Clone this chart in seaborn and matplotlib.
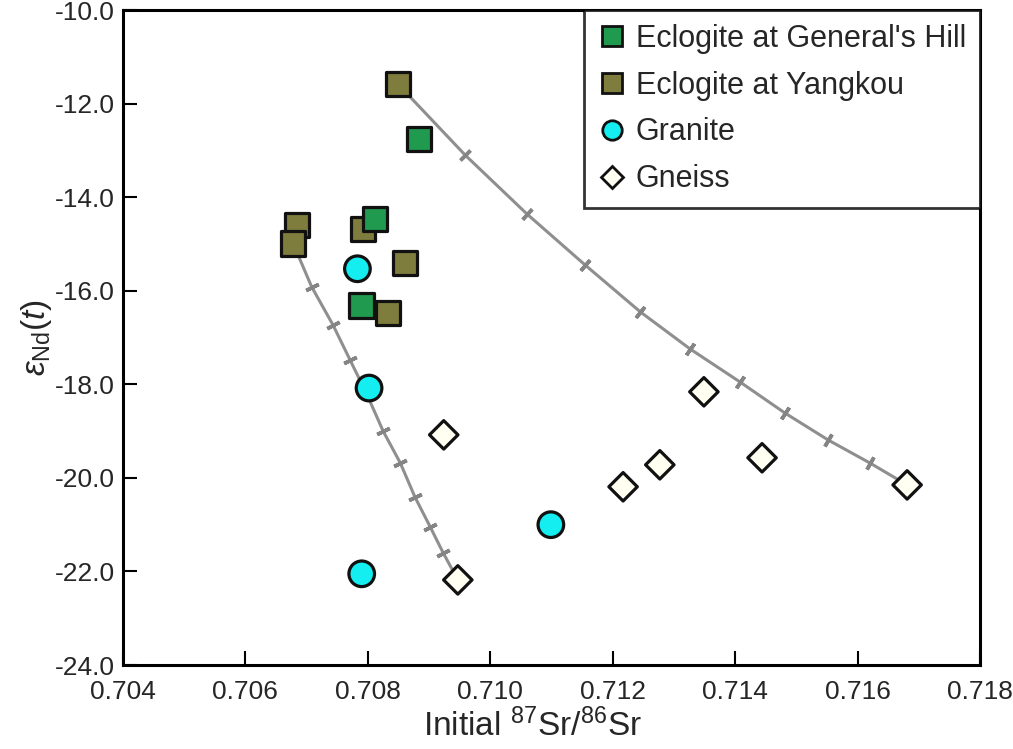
import numpy as np
import pandas as pd
import matplotlib
matplotlib.use("Agg")
import matplotlib.pyplot as plt
import seaborn as sns
from matplotlib.lines import Line2D

# --- sample data: initial 87Sr/86Sr vs eps_Nd(t) ---
gh_sr = [0.70884, 0.70812, 0.70790]
gh_nd = [-12.76, -14.47, -16.32]

yk_sr = [0.70849, 0.70684, 0.70678, 0.70792, 0.70861, 0.70833]
yk_nd = [-11.58, -14.59, -14.99, -14.68, -15.41, -16.47]

gr_sr = [0.70783, 0.70802, 0.71099, 0.70790]
gr_nd = [-15.53, -18.08, -21.00, -22.05]

gn_sr = [0.70924, 0.70947, 0.71217, 0.71277, 0.71349, 0.71444, 0.71681]
gn_nd = [-19.08, -22.18, -20.19, -19.72, -18.16, -19.57, -20.15]

# mixing curves, with a node every 10 % of mixing
mix1_sr = [0.70849, 0.70959, 0.71060, 0.71155, 0.71245, 0.71326,
           0.71408, 0.71481, 0.71552, 0.71620, 0.71681]
mix1_nd = [-11.58, -13.10, -14.36, -15.45, -16.45, -17.24,
           -17.95, -18.61, -19.19, -19.68, -20.15]
mix2_sr = [0.70678, 0.70708, 0.70743, 0.70771, 0.70799, 0.70825,
           0.70853, 0.70877, 0.70902, 0.70923, 0.70947]
mix2_nd = [-14.99, -15.91, -16.73, -17.48, -18.23, -19.00,
           -19.68, -20.41, -21.05, -21.60, -22.18]

groups = ["Eclogite at General's Hill", "Eclogite at Yangkou", "Granite", "Gneiss"]
x_ticks = [0.704, 0.706, 0.708, 0.710, 0.712, 0.714, 0.716, 0.718]
y_ticks = [-10.0, -12.0, -14.0, -16.0, -18.0, -20.0, -22.0, -24.0]

# draw order: Yangkou first so the General's Hill squares sit on top
df = pd.concat([
    pd.DataFrame({"sr": yk_sr, "nd": yk_nd, "group": groups[1]}),
    pd.DataFrame({"sr": gh_sr, "nd": gh_nd, "group": groups[0]}),
    pd.DataFrame({"sr": gr_sr, "nd": gr_nd, "group": groups[2]}),
    pd.DataFrame({"sr": gn_sr, "nd": gn_nd, "group": groups[3]}),
], ignore_index=True)

mix = pd.concat([
    pd.DataFrame({"sr": mix1_sr, "nd": mix1_nd, "curve": "A"}),
    pd.DataFrame({"sr": mix2_sr, "nd": mix2_nd, "curve": "B"}),
], ignore_index=True)

sns.set_theme(style="white")
plt.rcParams["font.family"] = ["Liberation Sans", "DejaVu Sans"]
plt.rcParams["mathtext.fontset"] = "custom"
plt.rcParams["mathtext.rm"] = "Liberation Sans"
plt.rcParams["mathtext.it"] = "Liberation Sans:italic"

fig = plt.figure(figsize=(10.13, 7.49), dpi=100)
ax = fig.add_axes([0.1214, 0.1121, 0.8460, 0.8745])
ax.set_xlim(0.704, 0.718)
ax.set_ylim(-24.0, -10.0)

line_col = "#8f8f8f"
sns.lineplot(data=mix, x="sr", y="nd", units="curve", estimator=None, sort=False,
             color=line_col, lw=2.2, ax=ax, zorder=1, legend=False)

# short bars across each curve at the 10 % nodes
for xs, ys in [(mix1_sr, mix1_nd), (mix2_sr, mix2_nd)]:
    pts = ax.transData.transform(np.column_stack([xs, ys]))
    for i in range(1, len(xs) - 1):
        d = pts[i + 1] - pts[i - 1]
        ang = np.degrees(np.arctan2(d[1], d[0]))
        ax.plot(xs[i], ys[i], marker=(2, 2, ang), ms=10, mew=2.6,
                color="#858585", zorder=2)

palette = {groups[0]: "#1f9a4e", groups[1]: "#7f7d3e",
           groups[2]: "#14eef0", groups[3]: "#fffff2"}
markers = {groups[0]: "s", groups[1]: "s", groups[2]: "o", groups[3]: "D"}
sizes = {groups[0]: 310, groups[1]: 310, groups[2]: 340, groups[3]: 210}

sns.scatterplot(data=df, x="sr", y="nd", hue="group", style="group",
                size="group", sizes=sizes, hue_order=groups, style_order=groups,
                size_order=groups, palette=palette, markers=markers,
                edgecolor="#111111", linewidth=2.3, ax=ax, zorder=3, legend=False)

# legend
handles = []
for g in groups:
    ms = 14 if markers[g] != "D" else 11
    handles.append(Line2D([], [], ls="none", marker=markers[g], ms=ms,
                          mfc=palette[g], mec="#111111", mew=2.0, label=g))
leg = ax.legend(handles=handles, loc="upper right", frameon=True, fancybox=False,
                borderaxespad=0.0, fontsize=22, handletextpad=0.35,
                handlelength=0.9, labelspacing=0.55, borderpad=0.45,
                edgecolor="black")
leg.get_frame().set_linewidth(2.0)

ax.set_xticks(x_ticks)
ax.set_xticklabels([f"{v:.3f}" for v in x_ticks])
ax.set_yticks(y_ticks)
ax.set_yticklabels([f"{v:.1f}" for v in y_ticks])
ax.tick_params(axis="both", direction="in", length=10, width=1.5,
               color="black", labelsize=19, left=True, bottom=True)
ax.tick_params(axis="x", pad=11)
ax.tick_params(axis="y", pad=6)
for s in ax.spines.values():
    s.set_color("black")
    s.set_linewidth(2.2)

ax.set_xlabel(r"Initial $^{87}$Sr/$^{86}$Sr", fontsize=24, labelpad=2)
ax.xaxis.set_label_coords(0.478, -0.066)
ax.set_ylabel(r"$\varepsilon_{\mathrm{Nd}}(\mathit{t})$", fontsize=24, labelpad=0)
ax.yaxis.set_label_coords(-0.08, 0.5)

fig.savefig("out.png", dpi=100)
